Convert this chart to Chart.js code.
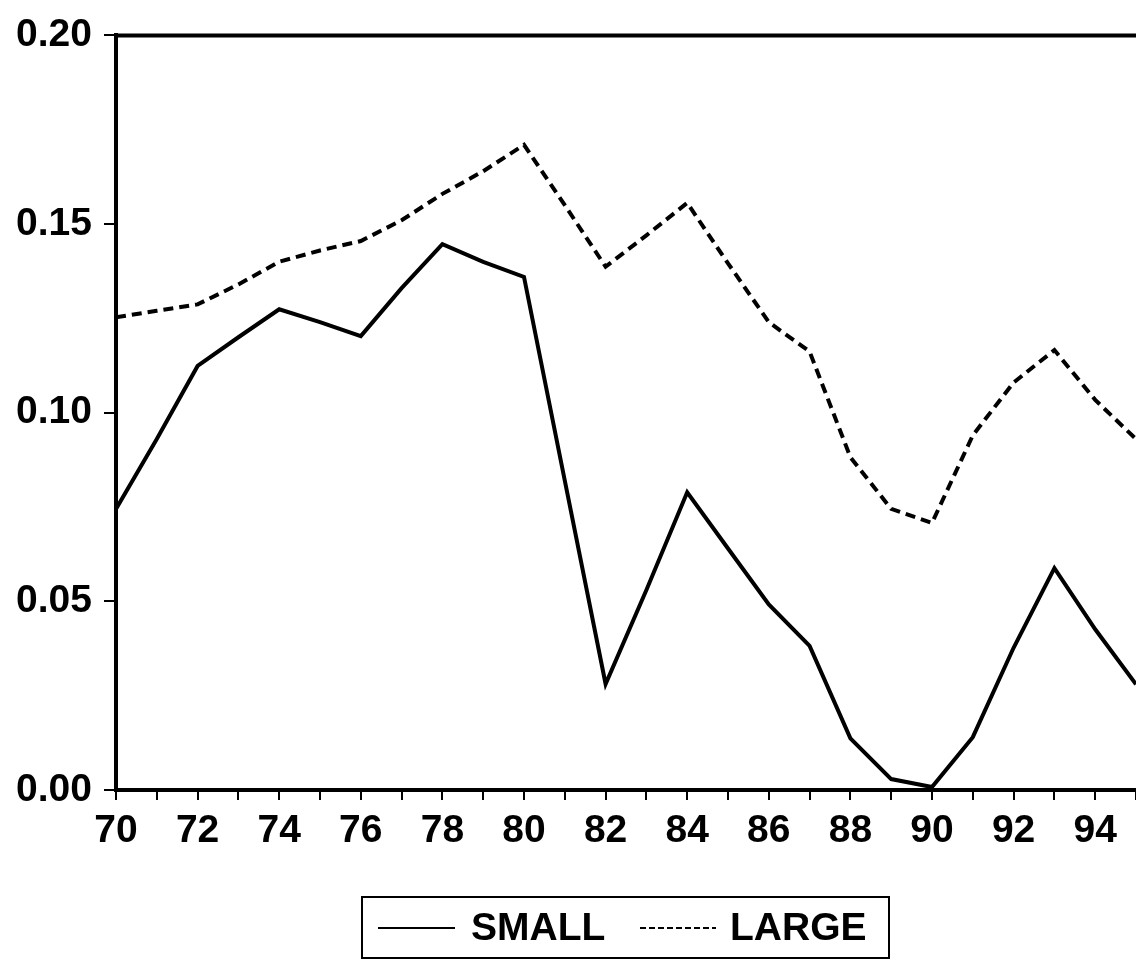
<!DOCTYPE html>
<html>
<head>
<meta charset="utf-8">
<script src="https://cdn.jsdelivr.net/npm/chart.js@4.4.1/dist/chart.umd.min.js"></script>
<style>
  html, body { margin: 0; padding: 0; background: #fff; }
  #wrap { width: 1136px; height: 960px; position: relative; }
</style>
</head>
<body>
<div id="wrap"><canvas id="chart"></canvas></div>
<script>
// years 1970..1995
const years = [70, 71, 72, 73, 74, 75, 76, 77, 78, 79, 80, 81, 82, 83, 84, 85, 86, 87, 88, 89, 90, 91, 92, 93, 94, 95];
const small = [0.0745, 0.093, 0.1124, 0.120, 0.1274, 0.124, 0.1203, 0.133, 0.1447, 0.140, 0.136, 0.082, 0.0281, 0.053, 0.0789, 0.064, 0.0492, 0.0382, 0.0137, 0.0029, 0.0008, 0.0140, 0.0377, 0.0588, 0.0426, 0.028];
const large = [0.1253, 0.127, 0.1287, 0.134, 0.140, 0.143, 0.1455, 0.151, 0.158, 0.164, 0.171, 0.155, 0.1387, 0.147, 0.1556, 0.1396, 0.124, 0.1162, 0.0882, 0.0745, 0.0708, 0.094, 0.108, 0.1166, 0.1034, 0.093];
const yTicks = [0, 0.05, 0.10, 0.15, 0.20];
const seriesNames = ["SMALL", "LARGE"];

const FONT = "'Liberation Sans', Arial, sans-serif";

const toPoints = (vals) => years.map((yr, i) => ({ x: yr, y: vals[i] }));

// top frame line + boxed legend under the axis
const framePlugin = {
  id: "frame",
  afterDraw(chart) {
    const { ctx, chartArea } = chart;
    ctx.save();
    ctx.strokeStyle = "#000";
    ctx.lineWidth = 4;
    ctx.beginPath();
    ctx.moveTo(chartArea.left - 2, chartArea.top);
    ctx.lineTo(chartArea.right, chartArea.top);
    ctx.stroke();

    // legend box
    const bx = 362, by = 897, bw = 527, bh = 61;
    ctx.lineWidth = 2;
    ctx.strokeRect(bx, by, bw, bh);
    const cy = 928;

    ctx.lineWidth = 2;
    ctx.beginPath();
    ctx.moveTo(378, cy);
    ctx.lineTo(455, cy);
    ctx.stroke();

    ctx.setLineDash([6, 3]);
    ctx.beginPath();
    ctx.moveTo(640, cy);
    ctx.lineTo(716, cy);
    ctx.stroke();
    ctx.setLineDash([]);

    ctx.fillStyle = "#000";
    ctx.font = "bold 39px " + FONT;
    ctx.textBaseline = "middle";
    ctx.textAlign = "left";
    ctx.fillText(seriesNames[0], 471, cy + 1);
    ctx.fillText(seriesNames[1], 730, cy + 1);
    ctx.restore();
  }
};

new Chart(document.getElementById("chart"), {
  type: "line",
  data: {
    datasets: [
      {
        label: seriesNames[0],
        data: toPoints(small),
        borderColor: "#000",
        borderWidth: 4,
        pointRadius: 0,
        tension: 0,
        fill: false
      },
      {
        label: seriesNames[1],
        data: toPoints(large),
        borderColor: "#000",
        borderWidth: 4,
        borderDash: [10, 6],
        pointRadius: 0,
        tension: 0,
        fill: false
      }
    ]
  },
  options: {
    responsive: true,
    maintainAspectRatio: false,
    animation: false,
    layout: { padding: { top: 26, right: 0, bottom: 110, left: 0 } },
    plugins: {
      legend: { display: false },
      tooltip: { enabled: false }
    },
    scales: {
      x: {
        type: "linear",
        min: years[0],
        max: years[years.length - 1],
        // plot runs to the right edge, so drop the label padding
        afterFit: (s) => { s.height = 60; s.paddingLeft = 0; s.paddingRight = 0; },
        afterBuildTicks: (s) => { s.ticks = years.map((v) => ({ value: v })); },
        ticks: {
          autoSkip: false,
          maxRotation: 0,
          padding: 8,
          color: "#000",
          font: { family: FONT, size: 39, weight: "bold" },
          callback: (v) => (v % 2 === 0 ? String(v) : "")
        },
        grid: { drawOnChartArea: false, drawTicks: true, tickLength: 10, color: "#000", lineWidth: 2 },
        border: { color: "#000", width: 4 }
      },
      y: {
        min: 0,
        max: 0.2,
        afterFit: (s) => { s.width = 116; },
        afterBuildTicks: (s) => { s.ticks = yTicks.map((v) => ({ value: v })); },
        ticks: {
          padding: 12,
          color: "#000",
          font: { family: FONT, size: 39, weight: "bold" },
          callback: (v) => Number(v).toFixed(2)
        },
        grid: { drawOnChartArea: false, drawTicks: true, tickLength: 12, color: "#000", lineWidth: 2 },
        border: { color: "#000", width: 4 }
      }
    }
  },
  plugins: [framePlugin]
});
</script>
</body>
</html>
